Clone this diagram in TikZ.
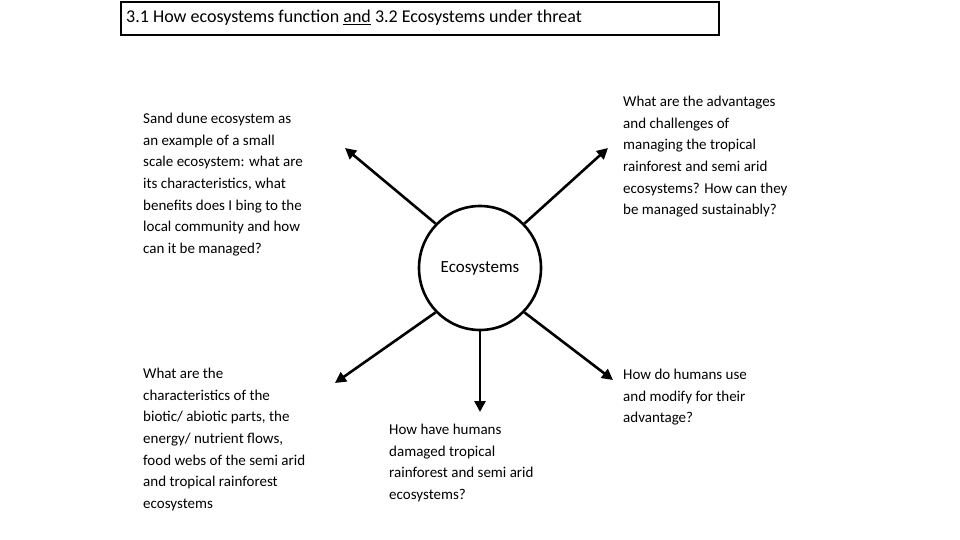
\documentclass[tikz,border=0pt]{standalone}
\usepackage{fontspec}
\setmainfont{Carlito}
\usetikzlibrary{arrows.meta,shapes.geometric}
\begin{document}
\begin{tikzpicture}[x=1pt,y=-1pt,
  txt/.style={anchor=north west,align=left,inner sep=0pt,font=\fontsize{15}{21.6}\selectfont},
  arr/.style={line width=2.6pt,-{Triangle[length=11pt,width=11pt]}}]
\useasboundingbox (0,0) rectangle (960,540);
\node[draw,line width=2pt,minimum width=598,minimum height=33,inner sep=0pt,anchor=north west] (title) at (120,1) {};
\node[anchor=west,inner sep=0pt,font=\fontsize{18}{20}\selectfont] (tt) at (126,18) {3.1 How ecosystems function \underline{and} 3.2 Ecosystems under threat};
\node[draw,line width=2.6pt,ellipse,minimum width=122,minimum height=124,inner sep=0pt] (eco) at (480,268) {};
\node[font=\fontsize{17}{20}\selectfont,inner sep=0pt] (ecot) at (480,268) {Ecosystems};
\coordinate (ul) at (345,148);
\coordinate (ur) at (608,148);
\coordinate (ll) at (335,383);
\coordinate (dn) at (480,412);
\coordinate (lr) at (613,380);
\draw[arr] (eco.135) -- (ul);
\draw[arr] (eco.45) -- (ur);
\draw[arr] (eco.225) -- (ll);
\draw[arr] (eco.south) -- (dn);
\draw[arr] (eco.-45) -- (lr);
\node[txt] (t1) at (143,113) {Sand dune ecosystem as\\an example of a small\\scale ecosystem: what are\\its characteristics, what\\benefits does I bing to the\\local community and how\\can it be managed?};
\node[txt] (t2) at (623,96) {What are the advantages\\and challenges of\\managing the tropical\\rainforest and semi arid\\ecosystems? How can they\\be managed sustainably?};
\node[txt] (t3) at (143,368) {What are the\\characteristics of the\\biotic/ abiotic parts, the\\energy/ nutrient flows,\\food webs of the semi arid\\and tropical rainforest\\ecosystems};
\node[txt] (t4) at (389,424) {How have humans\\damaged tropical\\rainforest and semi arid\\ecosystems?};
\node[txt] (t5) at (623,369) {How do humans use\\and modify for their\\advantage?};
\end{tikzpicture}
\end{document}
